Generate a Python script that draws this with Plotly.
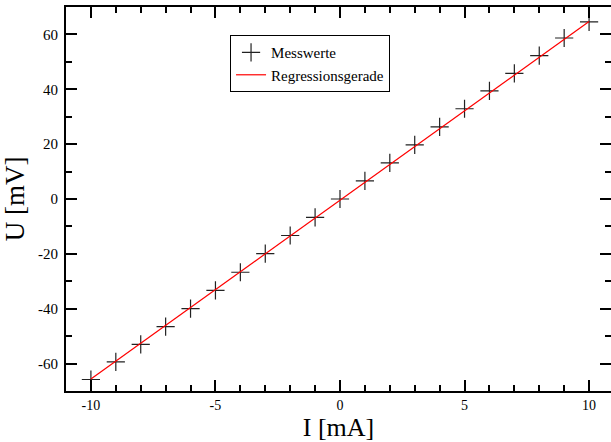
import plotly.graph_objects as go

current_mA = [-10, -9, -8, -7, -6, -5, -4, -3, -2, -1, 0, 1, 2, 3, 4, 5, 6, 7, 8, 9, 10]
voltage_mV = [-65.8, -59.4, -53.0, -46.5, -40.0, -33.3, -26.7, -19.9, -13.3, -6.7, 0.0,
              6.6, 13.2, 19.7, 26.3, 32.9, 39.4, 45.8, 52.3, 58.7, 64.6]
reg_x = [-10, 10]
reg_y = [-65.6, 64.7]
x_ticks = [-10, -5, 0, 5, 10]
x_tick_labels = ["-10", "-5", "0", "5", "10"]
y_ticks = [-60, -40, -20, 0, 20, 40, 60]
y_tick_labels = ["-60", "-40", "-20", "0", "20", "40", "60"]

font = "Liberation Serif, Times New Roman, serif"

fig = go.Figure()
fig.add_trace(go.Scatter(
    x=current_mA, y=voltage_mV, mode="markers", name="Messwerte",
    marker=dict(symbol="cross-thin", size=13, line=dict(width=1.2, color="#222222"), color="#222222"),
))
fig.add_trace(go.Scatter(
    x=reg_x, y=reg_y, mode="lines", name="Regressionsgerade",
    line=dict(color="red", width=1.2),
))

axis_common = dict(
    showgrid=False, zeroline=False, showline=True, linecolor="black", linewidth=2,
    mirror="ticks", ticks="inside", ticklen=11, tickwidth=1.5, tickcolor="black",
    automargin=False,
)

fig.update_xaxes(
    range=[-11, 10.88], tickvals=x_ticks, ticktext=x_tick_labels, ticklabelstandoff=0,
    tickfont=dict(family=font, size=14, color="black"),
    minor=dict(tick0=0, dtick=1, ticks="inside", ticklen=6, tickcolor="black", tickwidth=1.5),
    title=dict(text="I [mA]", font=dict(family=font, size=26, color="black")),
    **axis_common,
)
fig.update_yaxes(
    range=[-70, 70], tickvals=y_ticks, ticktext=y_tick_labels, ticklabelstandoff=3,
    tickfont=dict(family=font, size=15, color="black"),
    minor=dict(tick0=0, dtick=10, ticks="inside", ticklen=6, tickcolor="black", tickwidth=1.5),
    title=dict(text="U [mV]", font=dict(family=font, size=27, color="black"), standoff=13),
    **axis_common,
)

fig.update_layout(
    width=611, height=442,
    margin=dict(l=66, r=0, t=7, b=51),
    paper_bgcolor="white", plot_bgcolor="white",
    showlegend=True,
    legend=dict(
        x=0.301, y=0.927, xanchor="left", yanchor="top",
        bgcolor="white", bordercolor="black", borderwidth=1,
        font=dict(family=font, size=15, color="black"),
        tracegroupgap=0, itemwidth=30,
    ),
)

fig.write_html("out.html", config={"displayModeBar": False},
               post_script="document.body.style.margin='0';")
